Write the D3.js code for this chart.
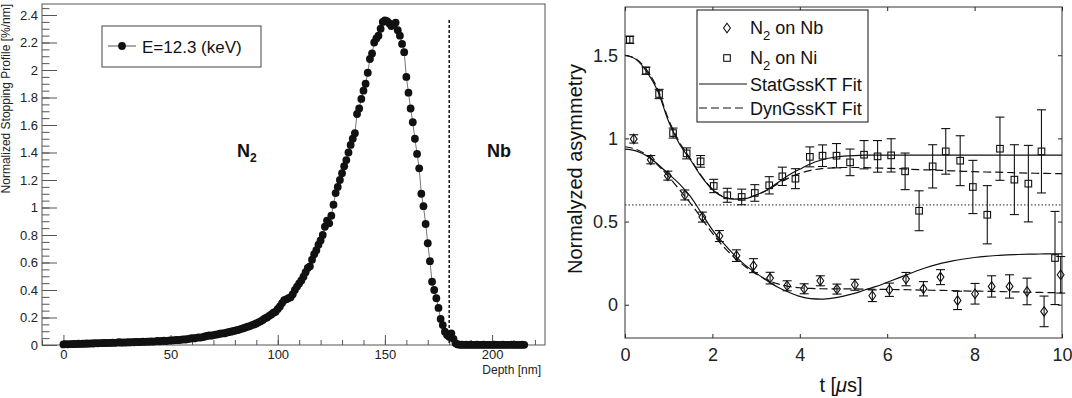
<!DOCTYPE html>
<html>
<head>
<meta charset="utf-8">
<script src="https://cdn.jsdelivr.net/npm/d3@7"></script>
<style>
  body { margin: 0; background: #fff; }
  svg { font-family: "Liberation Sans", Arial, sans-serif; }
</style>
</head>
<body>
<script>
// ---- left panel data: stopping profile, one value per nm of depth ----
const profile = [
  0.004,0.006,0.005,0.007,0.006,0.008,0.007,0.009,0.008,0.010,0.009,0.011,0.010,0.012,0.011,0.013,0.012,0.014,0.013,0.015,
  0.014,0.016,0.015,0.017,0.016,0.018,0.020,0.017,0.019,0.018,0.020,0.019,0.021,0.020,0.023,0.021,0.022,0.024,0.023,0.025,
  0.024,0.026,0.025,0.027,0.029,0.027,0.030,0.031,0.029,0.032,0.034,0.033,0.035,0.037,0.036,0.039,0.041,0.040,0.043,0.046,
  0.050,0.048,0.052,0.055,0.054,0.058,0.062,0.066,0.070,0.068,0.072,0.075,0.078,0.082,0.085,0.084,0.089,0.093,0.097,0.100,
  0.104,0.108,0.112,0.118,0.122,0.128,0.133,0.138,0.145,0.150,0.157,0.165,0.172,0.182,0.194,0.200,0.212,0.222,0.235,0.242,
  0.262,0.280,0.305,0.327,0.332,0.340,0.348,0.370,0.400,0.425,0.448,0.470,0.497,0.530,0.560,0.572,0.620,0.660,0.690,0.730,
  0.760,0.800,0.860,0.905,0.885,0.940,1.020,1.105,1.150,1.200,1.250,1.300,1.345,1.400,1.455,1.500,1.540,1.680,1.720,1.790,
  1.850,1.900,1.980,2.080,2.120,2.200,2.230,2.250,2.300,2.350,2.360,2.355,2.340,2.320,2.330,2.345,2.290,2.250,2.190,2.130,
  1.950,1.835,1.720,1.620,1.500,1.390,1.285,1.100,1.010,0.880,0.740,0.610,0.460,0.400,0.340,0.270,0.190,0.145,0.097,0.073,
  0.060,0.085,0.045,0.012,0.004,0.002,0.002,0.001,0.002,0.001,0.002,0.001,0.001,0.002,0.001,0.001,0.002,0.001,0.001,0.001,
  0.001,0.002,0.001,0.001,0.001,0.002,0.001,0.001,0.001,0.002,0.001,0.001,0.001,0.001,0.002,0.001
];
const depth = d3.range(profile.length);
const interfaceDepth = 180;
const depthTicks = [0, 50, 100, 150, 200];
const profileTicks = [0, 0.2, 0.4, 0.6, 0.8, 1, 1.2, 1.4, 1.6, 1.8, 2, 2.2, 2.4];

// ---- right panel data: asymmetry ----
const tNi = [0.11,0.48,0.78,1.10,1.41,1.73,2.03,2.34,2.67,2.97,3.30,3.60,3.90,4.23,4.52,4.84,5.15,5.47,5.78,6.09,6.41,6.73,7.04,7.34,7.67,7.96,8.29,8.58,8.91,9.23,9.53,9.84];
const aNi = [1.593,1.407,1.267,1.032,0.910,0.862,0.714,0.658,0.648,0.672,0.718,0.772,0.758,0.889,0.896,0.896,0.856,0.902,0.892,0.898,0.802,0.565,0.832,0.922,0.866,0.708,0.541,0.938,0.752,0.728,0.922,0.281];
const eNi = [0.022,0.022,0.028,0.030,0.033,0.035,0.040,0.042,0.047,0.050,0.052,0.055,0.060,0.060,0.065,0.073,0.080,0.085,0.095,0.100,0.110,0.120,0.130,0.137,0.150,0.160,0.175,0.190,0.210,0.230,0.250,0.280];

const tNb = [0.20,0.59,0.98,1.37,1.77,2.16,2.55,2.94,3.32,3.71,4.10,4.47,4.85,5.26,5.66,6.05,6.43,6.83,7.22,7.61,8.01,8.39,8.80,9.20,9.59,9.97];
const aNb = [0.997,0.872,0.776,0.660,0.527,0.413,0.295,0.235,0.160,0.114,0.096,0.144,0.094,0.120,0.054,0.090,0.154,0.096,0.166,0.026,0.066,0.110,0.110,0.080,-0.040,0.180];
const eNb = [0.025,0.025,0.027,0.030,0.030,0.033,0.035,0.042,0.035,0.030,0.030,0.030,0.030,0.033,0.035,0.040,0.040,0.043,0.045,0.055,0.062,0.064,0.070,0.080,0.092,0.110];

const tFit = [0,0.25,0.5,0.75,1,1.25,1.5,1.75,2,2.25,2.5,2.75,3,3.25,3.5,3.75,4,4.25,4.5,4.75,5,5.25,5.5,5.75,6,6.25,6.5,6.75,7,7.25,7.5,7.75,8,8.25,8.5,8.75,9,9.25,9.5,9.75,10];
const statNi = [1.500,1.475,1.400,1.285,1.100,0.965,0.870,0.770,0.692,0.648,0.635,0.638,0.660,0.690,0.735,0.780,0.815,0.848,0.870,0.885,0.893,0.897,0.899,0.900,0.900,0.900,0.900,0.900,0.900,0.900,0.900,0.900,0.900,0.900,0.900,0.900,0.900,0.900,0.900,0.900,0.900];
const dynNi  = [1.500,1.478,1.410,1.295,1.112,0.975,0.876,0.774,0.695,0.650,0.636,0.639,0.660,0.688,0.728,0.763,0.790,0.808,0.818,0.823,0.825,0.825,0.824,0.822,0.820,0.818,0.815,0.812,0.810,0.808,0.805,0.802,0.800,0.798,0.797,0.795,0.793,0.791,0.790,0.789,0.788];
const statNb = [0.935,0.925,0.895,0.845,0.785,0.725,0.650,0.550,0.450,0.370,0.300,0.238,0.190,0.145,0.105,0.075,0.050,0.037,0.034,0.040,0.052,0.068,0.090,0.110,0.135,0.160,0.185,0.210,0.232,0.250,0.264,0.275,0.284,0.291,0.296,0.300,0.302,0.304,0.305,0.306,0.306];
const dynNb  = [0.950,0.935,0.900,0.840,0.770,0.690,0.610,0.520,0.430,0.350,0.285,0.230,0.185,0.150,0.125,0.110,0.102,0.098,0.096,0.095,0.095,0.095,0.094,0.093,0.092,0.091,0.090,0.088,0.087,0.086,0.085,0.083,0.082,0.081,0.080,0.078,0.077,0.075,0.074,0.073,0.072];
const asymTicksX = [0, 2, 4, 6, 8, 10];
const asymTicksY = [0, 0.5, 1, 1.5];
const dottedLevel = 0.6;

const svg = d3.select('body').append('svg')
    .attr('width', 1072)
    .attr('height', 398);

// ================= left panel =================
const L = {x0: 42, x1: 545, y0: 4, y1: 345};
const xL = d3.scaleLinear().domain([-10, 224.7]).range([L.x0, L.x1]);
const yL = d3.scaleLinear().domain([0, 2.48]).range([L.y1, L.y0]);
const gL = svg.append('g');

// minor + major ticks, ROOT style (inside the frame)
gL.append('g')
    .attr('transform', 'translate(' + L.x0 + ',0)')
    .call(d3.axisLeft(yL).tickValues(d3.range(0, 2.46, 0.05)).tickSize(-7.5).tickFormat(''));
gL.append('g')
    .attr('class', 'y-left')
    .attr('transform', 'translate(' + L.x0 + ',0)')
    .call(d3.axisLeft(yL).tickValues(profileTicks).tickSize(-15).tickPadding(4)
        .tickFormat(d => +d.toFixed(1)));
gL.append('g')
    .attr('transform', 'translate(0,' + L.y1 + ')')
    .call(d3.axisBottom(xL).tickValues(d3.range(-10, 221, 10)).tickSize(-5).tickFormat(''));
gL.append('g')
    .attr('class', 'x-left')
    .attr('transform', 'translate(0,' + L.y1 + ')')
    .call(d3.axisBottom(xL).tickValues(depthTicks).tickSize(-10).tickPadding(5));

gL.selectAll('.domain').remove();
gL.selectAll('.tick line').attr('stroke', '#555');
gL.selectAll('.tick text').attr('font-size', 13).attr('fill', '#222')
    .attr('font-family', '"Liberation Sans", Arial, sans-serif');

gL.append('rect')
    .attr('x', L.x0).attr('y', L.y0)
    .attr('width', L.x1 - L.x0).attr('height', L.y1 - L.y0)
    .attr('fill', 'none').attr('stroke', '#555').attr('stroke-width', 1);

// interface line
gL.append('line')
    .attr('x1', xL(interfaceDepth)).attr('x2', xL(interfaceDepth))
    .attr('y1', 20).attr('y2', L.y1)
    .attr('stroke', '#111').attr('stroke-width', 1.5)
    .attr('stroke-dasharray', '3,2');

const lineL = d3.line().x((d, i) => xL(depth[i])).y(d => yL(d));
gL.append('path')
    .datum(profile)
    .attr('d', lineL)
    .attr('fill', 'none').attr('stroke', '#777').attr('stroke-width', 1);

gL.selectAll('circle.pt')
    .data(profile)
    .enter().append('circle')
    .attr('class', 'pt')
    .attr('cx', (d, i) => xL(depth[i]))
    .attr('cy', d => yL(d))
    .attr('r', 3.9)
    .attr('fill', '#111');

// axis titles
gL.append('text')
    .attr('transform', 'translate(10,4) rotate(-90)')
    .attr('text-anchor', 'end')
    .attr('font-size', 12).attr('fill', '#222')
    .text('Normalized Stopping Profile [%/nm]');
gL.append('text')
    .attr('x', 541).attr('y', 374)
    .attr('text-anchor', 'end')
    .attr('font-size', 12).attr('fill', '#222')
    .text('Depth [nm]');

// layer labels
const n2 = gL.append('text').attr('x', 237).attr('y', 157)
    .attr('font-size', 18).attr('font-weight', 'bold').attr('fill', '#111');
n2.append('tspan').text('N');
n2.append('tspan').attr('font-size', 12).attr('dy', 5).text('2');
gL.append('text').attr('x', 487).attr('y', 157)
    .attr('font-size', 18).attr('font-weight', 'bold').attr('fill', '#111')
    .text('Nb');

// legend
gL.append('rect').attr('x', 102).attr('y', 26).attr('width', 159).attr('height', 41)
    .attr('fill', '#fff').attr('stroke', '#444');
gL.append('line').attr('x1', 108).attr('x2', 136).attr('y1', 46).attr('y2', 46)
    .attr('stroke', '#555');
gL.append('circle').attr('cx', 122).attr('cy', 46).attr('r', 3.9).attr('fill', '#111');
gL.append('text').attr('x', 142).attr('y', 52.5)
    .attr('font-size', 17).attr('fill', '#111')
    .text('E=12.3 (keV)');

// ================= right panel =================
const R = {x0: 625, x1: 1062, y0: 7, y1: 338};
const xR = d3.scaleLinear().domain([0, 10]).range([R.x0, R.x1]);
const yR = d3.scaleLinear().domain([-0.2, 1.79]).range([R.y1, R.y0]);
const gR = svg.append('g');

gR.append('g').attr('transform', 'translate(0,' + R.y1 + ')')
    .call(d3.axisBottom(xR).tickValues(asymTicksX).tickSize(-4).tickPadding(10));
gR.append('g').attr('transform', 'translate(0,' + R.y0 + ')')
    .call(d3.axisTop(xR).tickValues(asymTicksX).tickSize(-4).tickFormat(''));
gR.append('g').attr('transform', 'translate(' + R.x0 + ',0)')
    .call(d3.axisLeft(yR).tickValues(asymTicksY).tickSize(-4).tickPadding(7)
        .tickFormat(d => String(d)));
gR.append('g').attr('transform', 'translate(' + R.x1 + ',0)')
    .call(d3.axisRight(yR).tickValues(asymTicksY).tickSize(-4).tickFormat(''));
gR.selectAll('.domain').remove();
gR.selectAll('.tick line').attr('stroke', '#222');
gR.selectAll('.tick text').attr('font-size', 18).attr('fill', '#222')
    .attr('font-family', '"Liberation Sans", Arial, sans-serif');

gR.append('rect')
    .attr('x', R.x0).attr('y', R.y0)
    .attr('width', R.x1 - R.x0).attr('height', R.y1 - R.y0)
    .attr('fill', 'none').attr('stroke', '#333').attr('stroke-width', 1);

gR.append('line')
    .attr('x1', R.x0).attr('x2', R.x1)
    .attr('y1', yR(dottedLevel)).attr('y2', yR(dottedLevel))
    .attr('stroke', '#222').attr('stroke-width', 1).attr('stroke-dasharray', '1.5,2');

const fitLine = vals => d3.line()
    .x((d, i) => xR(tFit[i])).y(d => yR(d))
    .curve(d3.curveMonotoneX)(vals);

[[statNi, null], [dynNi, '8,4'], [statNb, null], [dynNb, '8,4']].forEach(([vals, dash]) => {
    gR.append('path')
        .attr('d', fitLine(vals))
        .attr('fill', 'none').attr('stroke', '#111').attr('stroke-width', 1.2)
        .attr('stroke-dasharray', dash);
});

function errorBars(ts, vs, es) {
    const g = gR.append('g').attr('stroke', '#111').attr('stroke-width', 1.1);
    ts.forEach((t, i) => {
        const x = xR(t), yt = yR(vs[i] + es[i]), yb = yR(vs[i] - es[i]);
        g.append('line').attr('x1', x).attr('x2', x).attr('y1', yt).attr('y2', yb);
        g.append('line').attr('x1', x - 4.5).attr('x2', x + 4.5).attr('y1', yt).attr('y2', yt);
        g.append('line').attr('x1', x - 4.5).attr('x2', x + 4.5).attr('y1', yb).attr('y2', yb);
    });
}
errorBars(tNi, aNi, eNi);
errorBars(tNb, aNb, eNb);

const diamond = 'M0,-4.8L3.4,0L0,4.8L-3.4,0Z';
gR.selectAll('path.nb')
    .data(tNb)
    .enter().append('path')
    .attr('class', 'nb')
    .attr('transform', (t, i) => 'translate(' + xR(t) + ',' + yR(aNb[i]) + ')')
    .attr('d', diamond)
    .attr('fill', 'none').attr('stroke', '#111').attr('stroke-width', 1.1);
gR.selectAll('rect.ni')
    .data(tNi)
    .enter().append('rect')
    .attr('class', 'ni')
    .attr('x', t => xR(t) - 3.3)
    .attr('y', (t, i) => yR(aNi[i]) - 3.3)
    .attr('width', 6.6).attr('height', 6.6)
    .attr('fill', 'none').attr('stroke', '#111').attr('stroke-width', 1.1);

// axis titles
gR.append('text')
    .attr('transform', 'translate(582,169) rotate(-90)')
    .attr('text-anchor', 'middle')
    .attr('font-size', 20).attr('fill', '#111')
    .text('Normalyzed asymmetry');
const tl = gR.append('text')
    .attr('x', 841).attr('y', 392)
    .attr('text-anchor', 'middle')
    .attr('font-size', 20).attr('fill', '#111');
tl.append('tspan').text('t [');
tl.append('tspan').attr('font-style', 'italic').text('\u03bc');
tl.append('tspan').text('s]');

// legend
const lg = gR.append('g');
lg.append('rect').attr('x', 697).attr('y', 10).attr('width', 171).attr('height', 112)
    .attr('fill', '#fff').attr('stroke', '#111');
lg.append('path').attr('transform', 'translate(727,28)').attr('d', diamond)
    .attr('fill', 'none').attr('stroke', '#111').attr('stroke-width', 1.1);
lg.append('rect').attr('x', 723.7).attr('y', 54.7).attr('width', 6.6).attr('height', 6.6)
    .attr('fill', 'none').attr('stroke', '#111').attr('stroke-width', 1.1);
lg.append('line').attr('x1', 699).attr('x2', 747).attr('y1', 84).attr('y2', 84)
    .attr('stroke', '#111').attr('stroke-width', 1.2);
lg.append('line').attr('x1', 699).attr('x2', 747).attr('y1', 108).attr('y2', 108)
    .attr('stroke', '#111').attr('stroke-width', 1.2).attr('stroke-dasharray', '8,4');

[['Nb', 34], ['Ni', 64]].forEach(([el, y]) => {
    const t = lg.append('text').attr('x', 750).attr('y', y)
        .attr('font-size', 18).attr('fill', '#111');
    t.append('tspan').text('N');
    t.append('tspan').attr('font-size', 13).attr('dy', 6).text('2');
    t.append('tspan').attr('dy', -6).text(' on ' + el);
});
lg.append('text').attr('x', 750).attr('y', 91).attr('font-size', 18).attr('fill', '#111')
    .text('StatGssKT Fit');
lg.append('text').attr('x', 750).attr('y', 115).attr('font-size', 18).attr('fill', '#111')
    .text('DynGssKT Fit');
</script>
</body>
</html>
